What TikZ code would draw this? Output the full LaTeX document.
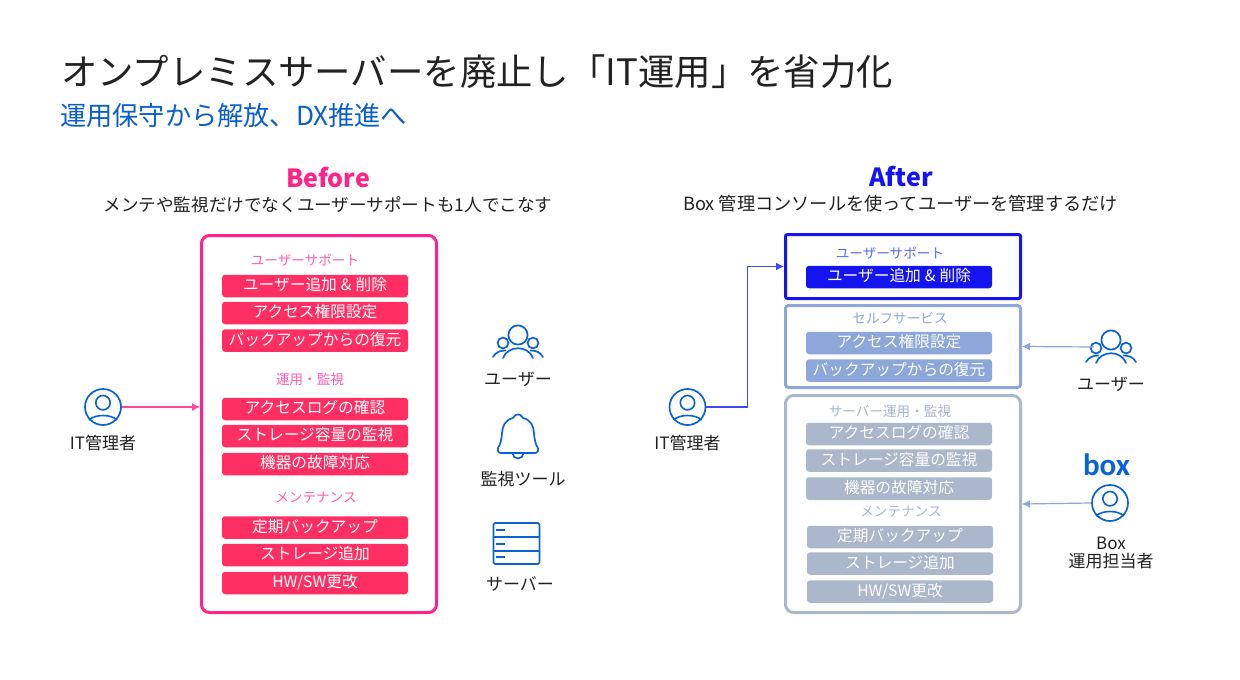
\documentclass[tikz,border=0pt]{standalone}
\usepackage{fontspec}
\setmainfont{Noto Sans CJK JP}
\newfontfamily\logofont{Carlito}
\usetikzlibrary{arrows.meta,calc}
\definecolor{inkc}{HTML}{222222}
\definecolor{iconc}{HTML}{0A63D2}
\definecolor{subc}{HTML}{0A5FCC}
\definecolor{pinkc}{HTML}{FF2389}
\definecolor{pinkt}{HTML}{FF5FB0}
\definecolor{redbar}{HTML}{FF2F63}
\definecolor{bluec}{HTML}{1414F0}
\definecolor{bluet}{HTML}{5A6CF0}
\definecolor{lightc}{HTML}{8DA7DA}
\definecolor{grayc}{HTML}{ABB7CB}
\tikzset{
  barbase/.style={minimum width=186pt,minimum height=22.5pt,inner sep=0pt,text height=12pt,text depth=3pt,rounded corners=3pt,text=white,font=\fontsize{15.7}{16}\selectfont},
  redbarn/.style={barbase,fill=redbar},
  bluebarn/.style={barbase,fill=bluec},
  lightbarn/.style={barbase,fill=lightc},
  graybarn/.style={barbase,fill=grayc},
  frame/.style={draw,fill=white,rounded corners=#1},
  seclabel/.style={font=\fontsize{13.6}{15}\selectfont,inner sep=0pt},
  captext/.style={font=\fontsize{17}{20}\selectfont,text=inkc,inner sep=0pt,align=center},
  iconline/.style={draw=iconc,line width=1.7pt},
  personicon/.style={circle,draw=iconc,line width=1.7pt,minimum size=36pt,inner sep=0pt},
  anchoricon/.style={circle,minimum size=34pt,inner sep=0pt},
  pics/persondetail/.style={code={
    \draw[iconc,line width=1.6pt] (0,-4.3) circle (7.2pt);
    \draw[iconc,line width=1.6pt] (-14,13) .. controls (-8,7) and (8,7) .. (14,13);
  }},
  pics/groupicon/.style={code={
    \draw[iconc,line width=1.7pt] (0,0) circle (9.6pt);
    \draw[iconc,line width=1.7pt] (-15,8) circle (5.4pt);
    \draw[iconc,line width=1.7pt] (15,8) circle (5.4pt);
    \draw[iconc,line width=1.7pt,line cap=round] (-15,23) .. controls (-10,10) and (10,10) .. (15,23);
    \draw[iconc,line width=1.7pt,line cap=round] (-25,22) .. controls (-22,17) and (-18,15.5) .. (-12.5,15.5);
    \draw[iconc,line width=1.7pt,line cap=round] (25,22) .. controls (22,17) and (18,15.5) .. (12.5,15.5);
  }},
  connector/.style={line width=1.2pt,-{Latex[length=8pt,width=8pt]}},
}
\begin{document}
\begin{tikzpicture}[x=1pt,y=-1pt]
\useasboundingbox (0,0) rectangle (1240,680);
\fill[white] (0,0) rectangle (1240,680);
% titles
\node[anchor=west,inner sep=0pt,text=inkc,font=\fontsize{36.4}{40}\selectfont] (title) at (61,72) {オンプレミスサーバーを廃止し「IT運用」を省力化};
\node[anchor=west,inner sep=0pt,text=subc,font=\fontsize{26.2}{28}\selectfont] (subtitle) at (60,116) {運用保守から解放、DX推進へ};
\node[inner sep=0pt,text=pinkc,font=\fontsize{25}{30}\selectfont\bfseries] (beforet) at (328,178) {Before};
\node[inner sep=0pt,text=inkc,font=\fontsize{17.6}{20}\selectfont] (befores) at (328,204.5) {メンテや監視だけでなくユーザーサポートも1人でこなす};
\node[inner sep=0pt,text=bluec,font=\fontsize{25}{30}\selectfont\bfseries] (aftert) at (901,177) {After};
\node[inner sep=0pt,text=inkc,font=\fontsize{18.2}{20}\selectfont] (afters) at (900.5,203.5) {Box 管理コンソールを使ってユーザーを管理するだけ};
% Before frame
\node[frame=8pt,draw=pinkc,line width=3pt,minimum width=235pt,minimum height=377pt,inner sep=0pt] (bbox) at (319,424) {};
\node[seclabel,text=pinkt] (bs1) at (305,260) {ユーザーサポート};
\node[seclabel,text=pinkt] (bs2) at (310,379) {運用・監視};
\node[seclabel,text=pinkt] (bs3) at (316,498) {メンテナンス};
\node[redbarn] (b1) at (315,286) {ユーザー追加\hspace{4pt}\&\hspace{4pt}削除};
\node[redbarn] (b2) at (315,313) {アクセス権限設定};
\node[redbarn] (b3) at (315,340.5) {バックアップからの復元};
\node[redbarn] (b4) at (315,409) {アクセスログの確認};
\node[redbarn] (b5) at (315,436) {ストレージ容量の監視};
\node[redbarn] (b6) at (315,464) {機器の故障対応};
\node[redbarn] (b7) at (315,527.5) {定期バックアップ};
\node[redbarn] (b8) at (315,555) {ストレージ追加};
\node[redbarn] (b9) at (315,583) {HW/SW更改};
% After frames
\node[frame=2pt,draw=bluec,line width=3pt,minimum width=235pt,minimum height=64pt,inner sep=0pt] (abox1) at (903,266.5) {};
\node[frame=3pt,draw=lightc,line width=3pt,minimum width=235pt,minimum height=82pt,inner sep=0pt] (abox2) at (903,346.5) {};
\node[frame=8pt,draw=grayc,line width=3pt,minimum width=235pt,minimum height=217pt,inner sep=0pt] (abox3) at (903,504) {};
\node[seclabel,text=bluet] (as1) at (890,253) {ユーザーサポート};
\node[seclabel,text=lightc] (as2) at (900,318) {セルフサービス};
\node[seclabel,text=grayc] (as3) at (890,411) {サーバー運用・監視};
\node[seclabel,text=grayc] (as4) at (901,512) {メンテナンス};
\node[bluebarn] (a1) at (899,277) {ユーザー追加\hspace{4pt}\&\hspace{4pt}削除};
\node[lightbarn] (a2) at (899,343) {アクセス権限設定};
\node[lightbarn] (a3) at (899,370.5) {バックアップからの復元};
\node[graybarn] (a4) at (899,434) {アクセスログの確認};
\node[graybarn] (a5) at (899,460.5) {ストレージ容量の監視};
\node[graybarn] (a6) at (899,488.5) {機器の故障対応};
\node[graybarn] (a7) at (900,537) {定期バックアップ};
\node[graybarn] (a8) at (900,563.5) {ストレージ追加};
\node[graybarn] (a9) at (900,591.5) {HW/SW更改};
% people
\node[personicon] (adminb) at (103,407) {};
\pic at (103,407) {persondetail};
\node[captext] (adminbt) at (103,443) {IT管理者};
\node[personicon] (admina) at (687.5,407) {};
\pic at (687.5,407) {persondetail};
\node[captext] (adminat) at (687.5,443) {IT管理者};
\node[personicon] (boxp) at (1110,503) {};
\pic at (1110,503) {persondetail};
\node[captext,text=inkc] (boxpt) at (1111,553) {Box\\[-1.5pt]運用担当者};
\node[inner sep=0pt,text=iconc,font=\logofont\bfseries\fontsize{31}{31}\selectfont] (boxlogo) at (1106.5,464.5) {box};
% icons right of Before
\node[anchoricon] (usersb) at (518,342) {};
\pic at (518,335) {groupicon};
\node[captext] (usersbt) at (518,379) {ユーザー};
\node[anchoricon] (bell) at (518,437) {};
\draw[iconline,line join=round] (518,414.5) .. controls (514,414.5) and (515,417) .. (513,418)
  .. controls (505,420) and (502.5,426) .. (502,433)
  .. controls (501.5,441) and (500,445) .. (498.5,447)
  .. controls (497,450) and (498,453) .. (501,453) -- (535,453)
  .. controls (538,453) and (539,450) .. (537.5,447)
  .. controls (536,445) and (534.5,441) .. (534,433)
  .. controls (533.5,426) and (531,420) .. (523,418)
  .. controls (521,417) and (522,414.5) .. (518,414.5) -- cycle;
\draw[iconline] (512.5,453) arc[start angle=180,end angle=360,radius=5.5pt];
\node[captext] (bellt) at (523,479) {監視ツール};
\node[iconline,minimum width=46pt,minimum height=41pt,inner sep=0pt,rounded corners=1.5pt] (server) at (516.5,543.5) {};
\draw[iconline] (server.west |- 0,537) -- (server.east |- 0,537);
\draw[iconline] (server.west |- 0,551) -- (server.east |- 0,551);
\draw[iconc,line width=1.7pt] (496,530) -- (505,530);
\draw[iconc,line width=1.7pt] (496,544) -- (505,544);
\draw[iconc,line width=1.7pt] (496,557) -- (505,557);
\node[captext] (servert) at (520,584) {サーバー};
% icons right of After
\node[anchoricon] (usersa) at (1111,347) {};
\pic at (1111,340) {groupicon};
\node[captext] (usersat) at (1111,384) {ユーザー};
% connectors
\draw[pinkt!60!pinkc,connector] (adminb.east) -- (adminb.east -| bbox.west);
\draw[bluet!60!bluec,connector] (admina.east) -- ++(41,0) |- (abox1.west);
\draw[lightc,connector] (usersa.west) -- (abox2.east);
\draw[lightc,connector] (boxp.west) -- (abox3.east);
\end{tikzpicture}
\end{document}
